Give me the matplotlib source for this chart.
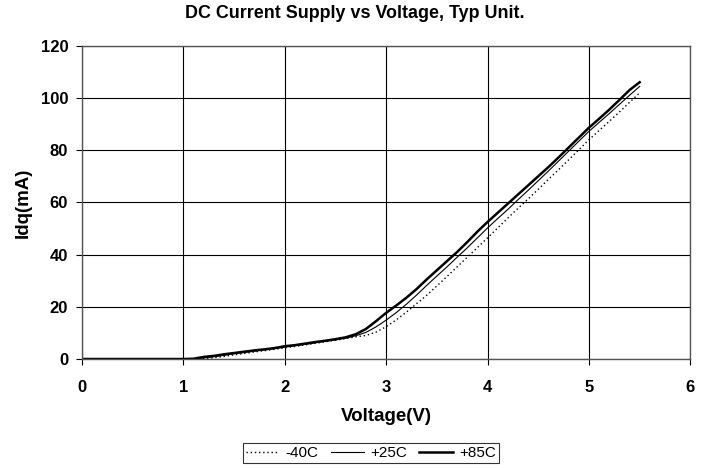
import numpy as np
from matplotlib import pyplot as plt

plt.rcParams['font.family'] = ['Liberation Sans', 'DejaVu Sans']

volts = np.round(np.arange(0, 5.51, 0.1), 1)

zeros = [0.0] * 11  # 0.0 .. 1.0 V
m40 = zeros + [0, 0.1, 0.5, 1.0, 1.6, 2.1, 2.7, 3.2, 3.7, 4.3, 4.8, 5.4, 6.0, 6.6, 7.2, 7.8,
               8.5, 9.0, 10.3, 12.4, 15, 18, 21.2, 24.4, 28, 31.6, 35.3, 39, 42.7, 46.4,
               50.2, 54, 57.7, 61.3, 65, 68.8, 72.5, 76.3, 80.1, 84, 87.5, 91, 94.6, 98.3, 101.9]
p25 = zeros + [0, 0.4, 0.9, 1.4, 2.0, 2.5, 3.0, 3.5, 4.0, 4.6, 5.1, 5.6, 6.2, 6.8, 7.3, 8.0,
               8.9, 10.2, 12.3, 14.9, 17.8, 21, 24.5, 28.2, 31.8, 35.3, 39, 42.6, 46.4, 50.2,
               53.8, 57.3, 61, 64.6, 68.3, 72, 75.8, 79.6, 83.4, 87.2, 90.6, 94, 97.5, 101, 104.4]
p85 = zeros + [0.1, 0.8, 1.2, 1.8, 2.3, 2.8, 3.3, 3.7, 4.2, 4.9, 5.3, 5.9, 6.5, 7.0, 7.6, 8.3,
               9.5, 11.5, 14.5, 17.7, 20.5, 23.5, 26.8, 30.5, 34, 37.5, 41, 44.8, 48.8, 52.5,
               56, 59.5, 63, 66.5, 70, 73.5, 77.2, 81, 84.8, 88.6, 92, 95.5, 99.2, 103, 106]

fig = plt.figure(figsize=(7.09, 4.68), dpi=100)
ax = fig.add_axes([0.1157, 0.2329, 0.858, 0.6695])

ax.plot(volts, m40, color='black', linestyle=(0, (1, 2)), linewidth=1.0, label='-40C')
ax.plot(volts, p25, color='black', linestyle='-', linewidth=0.8, label='+25C')
ax.plot(volts, p85, color='black', linestyle='-', linewidth=1.8, label='+85C')

ax.set_xlim(0, 6)
ax.set_ylim(0, 120)
ax.set_xticks(range(0, 7))
ax.set_yticks(range(0, 121, 20))
ax.grid(True, color='black', linewidth=0.8)
ax.set_axisbelow(True)
for s in ax.spines.values():
    s.set_color('#555555')
    s.set_linewidth(1.0)
ax.tick_params(labelsize=12, length=4, color='black')
ax.tick_params(axis='x', pad=11)
ax.tick_params(axis='y', pad=6)
for lab in ax.get_xticklabels() + ax.get_yticklabels():
    lab.set_fontweight('bold')

ax.set_xlabel('Voltage(V)', fontsize=13.5, fontweight='bold')
ax.set_ylabel('Idq(mA)', fontsize=13.5, fontweight='bold')
ax.xaxis.set_label_coords(0.5, -0.156)
ax.yaxis.set_label_coords(-0.082, 0.5)
fig.suptitle('DC Current Supply vs Voltage, Typ Unit.', fontsize=12.9, fontweight='bold', y=0.99)

leg = fig.legend(loc='center', bbox_to_anchor=(0.523, 0.032), ncol=3, fontsize=11,
                 frameon=True, fancybox=False, edgecolor='black', handlelength=2.2,
                 handletextpad=0.4, columnspacing=0.8, borderpad=0.2)
leg.get_frame().set_linewidth(0.8)

fig.savefig('out.png', dpi=100)
